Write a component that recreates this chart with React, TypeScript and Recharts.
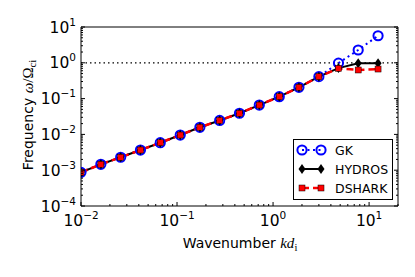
import { LineChart, Line, XAxis, YAxis, ReferenceLine, Legend } from 'recharts';

// wavenumber k d_i
const kdi = [0.01, 0.0161, 0.0259, 0.0416, 0.0669, 0.108, 0.173, 0.278, 0.447, 0.719, 1.16, 1.86, 3.0, 4.8, 7.7, 12.4];
// frequency omega / Omega_ci
const gk = [0.00087, 0.00146, 0.0023, 0.00366, 0.00586, 0.0096, 0.0158, 0.0245, 0.039, 0.066, 0.113, 0.207, 0.41, 0.98, 2.28, 5.7];
const hydros = [0.00087, 0.00146, 0.0023, 0.00366, 0.00586, 0.0096, 0.0158, 0.0245, 0.039, 0.066, 0.113, 0.207, 0.41, 0.71, 0.97, 0.97];
const dshark = [0.00087, 0.00146, 0.0023, 0.00366, 0.00586, 0.0096, 0.0158, 0.0245, 0.039, 0.066, 0.113, 0.207, 0.41, 0.7, 0.63, 0.67];

const xDecades = [0.01, 0.1, 1, 10];
const yDecades = [1e-4, 1e-3, 1e-2, 1e-1, 1, 10];
const xDomain = [0.01, 20];
const yDomain = [1e-4, 10];

const withMinors = (decades: number[], max: number) => {
  const out: number[] = [];
  decades.forEach((d) => {
    for (let m = 1; m <= 9; m++) {
      const v = parseFloat((d * m).toPrecision(6));
      if (v <= max * 1.0001) out.push(v);
    }
  });
  return out;
};
const xTicks = withMinors(xDecades, xDomain[1]);
const yTicks = withMinors(yDecades, yDomain[1]);

const data = kdi.map((k, i) => ({ k, gk: gk[i], hydros: hydros[i], dshark: dshark[i] }));

const FONT = 'DejaVu Sans';
const MATH = 'Liberation Serif';

const isMajor = (v: number) => Math.abs(Math.log10(v) - Math.round(Math.log10(v))) < 1e-6;

const Pow = ({ x, y, v, anchor }: any) => {
  const e = Math.round(Math.log10(v));
  return (
    <text x={x} y={y} textAnchor={anchor} fontFamily={FONT} fontSize={15.5} fill="#000">
      <tspan>10</tspan>
      <tspan dy={-7} fontSize={10.5}>{e < 0 ? '\u2212' + -e : String(e)}</tspan>
    </text>
  );
};

const BottomTick = ({ x, y, payload }: any) => {
  const major = isMajor(payload.value);
  return (
    <g>
      <line x1={x} y1={y} x2={x} y2={y - (major ? 4 : 2)} stroke="#000" />
      {major && <Pow x={x} y={y + 19.5} v={payload.value} anchor="middle" />}
    </g>
  );
};
const TopTick = ({ x, y, payload }: any) => (
  <line x1={x} y1={y} x2={x} y2={y + (isMajor(payload.value) ? 4 : 2)} stroke="#000" />
);
const LeftTick = ({ x, y, payload }: any) => {
  const major = isMajor(payload.value);
  return (
    <g>
      <line x1={x} y1={y} x2={x + (major ? 4 : 2)} y2={y} stroke="#000" />
      {major && <Pow x={x - 5} y={y + 5.6} v={payload.value} anchor="end" />}
    </g>
  );
};
const RightTick = ({ x, y, payload }: any) => (
  <line x1={x} y1={y} x2={x - (isMajor(payload.value) ? 4 : 2)} y2={y} stroke="#000" />
);

const GkDot = (p: any) => (
  <circle key={`gk-${p.index}`} cx={p.cx} cy={p.cy} r={4.6} fill="none" stroke="#0000ff" strokeWidth={2} />
);
const DiamondDot = (p: any) => (
  <path key={`hy-${p.index}`} d={`M${p.cx},${p.cy - 5}L${p.cx + 3.5},${p.cy}L${p.cx},${p.cy + 5}L${p.cx - 3.5},${p.cy}Z`} fill="#000" />
);
const SquareDot = (p: any) => (
  <rect key={`ds-${p.index}`} x={p.cx - 3} y={p.cy - 3} width={6} height={6} fill="#ff0000" stroke="#000" strokeWidth={0.5} />
);

const LegendBox = () => {
  const rows = [
    { name: 'GK', y: 11 },
    { name: 'HYDROS', y: 30 },
    { name: 'DSHARK', y: 49 },
  ];
  return (
    <svg width={101} height={62} style={{ display: 'block' }}>
      <rect x={0.5} y={0.5} width={99} height={60} fill="#fff" stroke="#000" />
      <line x1={9} y1={11} x2={28} y2={11} stroke="#0000ff" strokeWidth={2} strokeDasharray="2 3.5" />
      <GkDot cx={9} cy={11} index={0} />
      <GkDot cx={28} cy={11} index={1} />
      <line x1={9} y1={30} x2={28} y2={30} stroke="#000" strokeWidth={2} />
      <DiamondDot cx={9} cy={30} index={0} />
      <DiamondDot cx={28} cy={30} index={1} />
      <line x1={9} y1={49} x2={28} y2={49} stroke="#ff0000" strokeWidth={2.5} strokeDasharray="7 4" />
      <SquareDot cx={9} cy={49} index={0} />
      <SquareDot cx={28} cy={49} index={1} />
      {rows.map((r) => (
        <text key={r.name} x={42} y={r.y + 4.5} fontFamily={FONT} fontSize={12.5} fill="#000">{r.name}</text>
      ))}
    </svg>
  );
};

const YTitle = () => (
  <text transform="translate(28,115) rotate(-90)" x={0} y={5} textAnchor="middle" fontFamily={FONT} fontSize={14} fill="#000">
    <tspan>Frequency </tspan>
    <tspan fontFamily={MATH} fontStyle="italic" fontSize={15}>ω</tspan>
    <tspan fontFamily={MATH} fontSize={15}>/Ω</tspan>
    <tspan fontFamily={MATH} fontSize={10.5} dy={3}>ci</tspan>
  </text>
);
const XTitle = () => (
  <text x={240} y={248} textAnchor="middle" fontFamily={FONT} fontSize={14} fill="#000">
    <tspan>Wavenumber </tspan>
    <tspan fontFamily={MATH} fontStyle="italic" fontSize={15}>kd</tspan>
    <tspan fontFamily={MATH} fontSize={10.5} dy={3}>i</tspan>
  </text>
);

export default function App() {
  return (
    <div style={{ position: 'absolute', left: 0, top: 0, width: 415, height: 277, background: '#fff' }}>
      <LineChart width={415} height={277} data={data} margin={{ top: 26, right: 16, bottom: 70, left: 80 }}>
        <XAxis dataKey="k" type="number" scale="log" domain={xDomain} allowDataOverflow ticks={xTicks} interval={0}
          height={1} tickSize={0} tickMargin={0} tickLine={false} axisLine={{ stroke: '#000' }} tick={<BottomTick />}
          label={<XTitle />} />
        <XAxis xAxisId="top" orientation="top" type="number" scale="log" domain={xDomain} allowDataOverflow ticks={xTicks} interval={0}
          height={1} tickSize={0} tickMargin={0} tickLine={false} axisLine={{ stroke: '#000' }} tick={<TopTick />} />
        <YAxis type="number" scale="log" domain={yDomain} allowDataOverflow ticks={yTicks} interval={0}
          width={1} tickSize={0} tickMargin={0} tickLine={false} axisLine={{ stroke: '#000' }} tick={<LeftTick />}
          label={<YTitle />} />
        <YAxis yAxisId="right" orientation="right" type="number" scale="log" domain={yDomain} allowDataOverflow ticks={yTicks} interval={0}
          width={1} tickSize={0} tickMargin={0} tickLine={false} axisLine={{ stroke: '#000' }} tick={<RightTick />} />
        <ReferenceLine y={1} stroke="#000" strokeWidth={1.3} strokeDasharray="1.5 3" />
        <Line dataKey="gk" type="linear" stroke="#0000ff" strokeWidth={2} strokeDasharray="2 3.5" dot={GkDot} activeDot={false} isAnimationActive={false} />
        <Line dataKey="hydros" type="linear" stroke="#000" strokeWidth={2} dot={DiamondDot} activeDot={false} isAnimationActive={false} />
        <Line dataKey="dshark" type="linear" stroke="#ff0000" strokeWidth={2.5} strokeDasharray="7 4" dot={SquareDot} activeDot={false} isAnimationActive={false} />
        <Legend layout="horizontal" verticalAlign="middle" align="center" content={<LegendBox />}
          wrapperStyle={{ left: 293, top: 139, width: 101, height: 62 }} />
      </LineChart>
    </div>
  );
}
